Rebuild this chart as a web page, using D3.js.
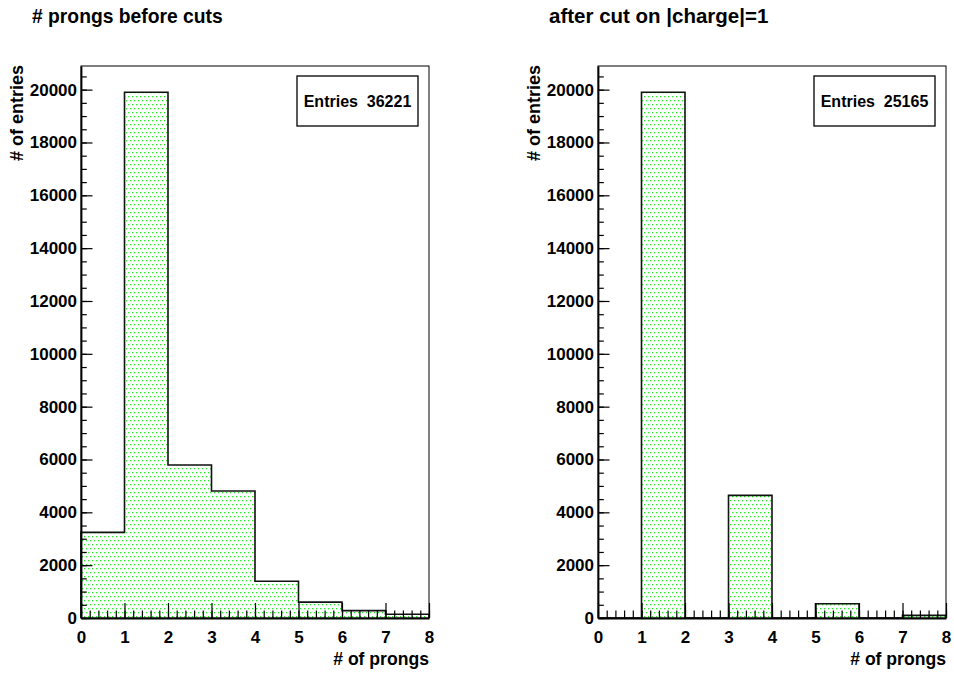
<!DOCTYPE html>
<html>
<head>
<meta charset="utf-8">
<script src="https://cdn.jsdelivr.net/npm/d3@7"></script>
<style>
  body { margin: 0; background: #fff; }
  text { font-family: "Liberation Sans", Arial, Helvetica, sans-serif; font-weight: bold; }
</style>
</head>
<body>
<script>
// bins of "# of prongs", 0..8, width 1
const binLow = [0, 1, 2, 3, 4, 5, 6, 7];
const beforeCuts = [3240, 19900, 5790, 4810, 1390, 600, 280, 140];
const afterCharge = [0, 19900, 0, 4640, 0, 540, 0, 100];
const entries = [36221, 25165];
const titles = ["# prongs before cuts", "after cut on |charge|=1"];
const xTicks = [0, 1, 2, 3, 4, 5, 6, 7, 8];
const yTicks = [0, 2000, 4000, 6000, 8000, 10000, 12000, 14000, 16000, 18000, 20000];

const W = 954, H = 675;
const svg = d3.select("body").append("svg")
    .attr("width", W)
    .attr("height", H);

// dotted green fill like ROOT style 3001
const defs = svg.append("defs");
const pat = defs.append("pattern")
    .attr("id", "dots")
    .attr("patternUnits", "userSpaceOnUse")
    .attr("width", 4)
    .attr("height", 8);
pat.append("rect").attr("width", 4).attr("height", 8).attr("fill", "#fff");
pat.append("rect").attr("x", 0).attr("y", 0).attr("width", 1.3).attr("height", 1.3).attr("fill", "#22ee22");
pat.append("rect").attr("x", 2).attr("y", 4).attr("width", 1.3).attr("height", 1.3).attr("fill", "#22ee22");

function drawPad(ox, counts, title, nEntries, titleSize) {
    const frame = { left: ox + 81, right: ox + 429, top: 66, bottom: 618 };
    const g = svg.append("g");

    const x = d3.scaleLinear().domain([0, 8]).range([frame.left, frame.right]);
    const y = d3.scaleLinear().domain([0, 20895]).range([frame.bottom, frame.top]);

    // title
    g.append("text")
        .attr("x", ox + 32)
        .attr("y", 23)
        .attr("font-size", titleSize)
        .text(title);

    // histogram outline as steps
    const pts = [[0, 0]];
    binLow.forEach((b, i) => {
        pts.push([b, counts[i]]);
        pts.push([b + 1, counts[i]]);
    });
    pts.push([8, 0]);

    const line = d3.line()
        .x(d => x(d[0]))
        .y(d => y(d[1]));

    g.append("path")
        .datum(pts)
        .attr("fill", "url(#dots)")
        .attr("stroke", "#111")
        .attr("stroke-width", 1.6)
        .attr("d", line);

    // frame
    g.append("rect")
        .attr("x", frame.left)
        .attr("y", frame.top)
        .attr("width", frame.right - frame.left)
        .attr("height", frame.bottom - frame.top)
        .attr("fill", "none")
        .attr("stroke", "#000")
        .attr("stroke-width", 1);

    // x axis: minor then major
    g.append("g")
        .attr("transform", `translate(0,${frame.bottom})`)
        .call(d3.axisBottom(x).ticks(40).tickSize(-7.5).tickSizeOuter(0).tickFormat(""))
        .call(a => a.select(".domain").remove());
    g.append("g")
        .attr("transform", `translate(0,${frame.bottom})`)
        .call(d3.axisBottom(x).tickValues(xTicks).tickSize(-15).tickSizeOuter(0).tickPadding(13).tickFormat(d3.format("d")));

    // y axis: minor then major
    g.append("g")
        .attr("transform", `translate(${frame.left},0)`)
        .call(d3.axisLeft(y).tickValues(d3.range(0, 21000, 500)).tickSize(-5.8).tickSizeOuter(0).tickFormat(""))
        .call(a => a.select(".domain").remove());
    g.append("g")
        .attr("transform", `translate(${frame.left},0)`)
        .call(d3.axisLeft(y).tickValues(yTicks).tickSize(-11.5).tickSizeOuter(0).tickPadding(4).tickFormat(d3.format("d")));

    g.selectAll(".tick line").attr("stroke", "#000").attr("stroke-width", 1.2);
    g.selectAll(".domain").attr("stroke", "#000").attr("stroke-width", 1.8);
    g.selectAll(".tick text")
        .attr("font-size", 17)
        .attr("fill", "#000")
        .attr("font-family", "'Liberation Sans', Arial, Helvetica, sans-serif")
        .attr("font-weight", "bold");

    // axis titles
    g.append("text")
        .attr("x", frame.right)
        .attr("y", 665)
        .attr("text-anchor", "end")
        .attr("font-size", 17.6)
        .text("# of prongs");
    g.append("text")
        .attr("transform", `translate(${ox + 23},${frame.top - 1}) rotate(-90)`)
        .attr("text-anchor", "end")
        .attr("font-size", 18)
        .text("# of entries");

    // stats box
    const bw = 121, bh = 50;
    const bx = frame.right - 11 - bw, by = 76;
    g.append("rect")
        .attr("x", bx)
        .attr("y", by)
        .attr("width", bw)
        .attr("height", bh)
        .attr("fill", "#fff")
        .attr("stroke", "#000")
        .attr("stroke-width", 1.3);
    g.append("text")
        .attr("x", bx + bw / 2)
        .attr("y", by + bh / 2 + 5.5)
        .attr("text-anchor", "middle")
        .attr("font-size", 16)
        .attr("xml:space", "preserve")
        .text("Entries  " + nEntries);
}

drawPad(0, beforeCuts, titles[0], entries[0], 19.3);
drawPad(517, afterCharge, titles[1], entries[1], 20.5);
</script>
</body>
</html>
